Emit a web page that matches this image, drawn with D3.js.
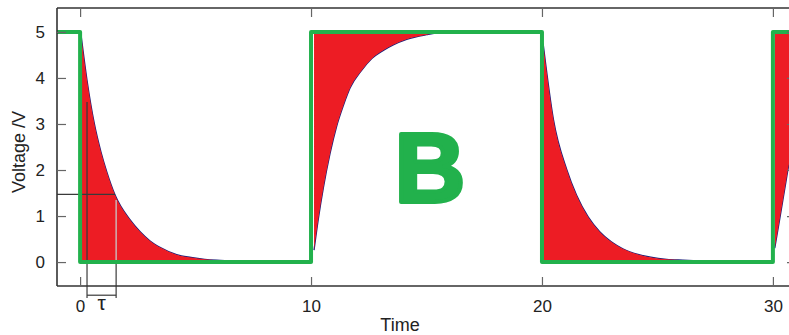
<!DOCTYPE html>
<html><head><meta charset="utf-8">
<script src="https://cdn.jsdelivr.net/npm/d3@7"></script>
<style>
html,body{margin:0;padding:0;background:#fff;}
svg{display:block;font-family:"Liberation Sans",Arial,sans-serif;}
</style></head>
<body><svg id="c" width="789" height="335"></svg>
<script>
// ---- data ----
const xTicks = [0, 10, 20, 30];
const yTicks = [0, 1, 2, 3, 4, 5];
const squareT = [-1, 0, 0, 10, 10, 20, 20, 30, 30, 31];
const squareV = [5, 5, 0, 0, 5, 5, 0, 0, 5, 5];

const decay1T = [0.05, 0.3, 0.62, 0.9, 1.15, 1.52, 2.16, 2.6, 3.03, 3.5, 4.18, 4.8, 5.4, 5.9, 6.9, 8.0];
const decay1V = [4.9, 3.95, 3.0, 2.4, 1.97, 1.45, 0.92, 0.66, 0.46, 0.31, 0.16, 0.1, 0.06, 0.04, 0.02, 0.01];
const decay1FillEnd = 5.9;

const rise2T = [10.13, 10.32, 10.53, 10.82, 11.11, 11.4, 11.69, 12.2, 12.63, 13.13, 13.56, 14.14, 15.0, 15.5, 16.5];
const rise2V = [0.26, 0.95, 1.6, 2.35, 2.95, 3.4, 3.78, 4.17, 4.42, 4.6, 4.72, 4.84, 4.94, 4.98, 5.0];
const rise2FillEnd = 15.5;

const decay3T = [20.05, 20.5, 21.08, 21.5, 22.0, 22.5, 23.0, 23.5, 24.2, 25.4, 26.1, 27.0];
const decay3V = [4.75, 3.09, 2.0, 1.45, 0.98, 0.66, 0.44, 0.29, 0.16, 0.06, 0.04, 0.02];
const decay3FillEnd = 26.1;

const rise4T = [30.08, 30.3, 30.5, 30.7, 31.0];
const rise4V = [0.3, 0.95, 1.55, 2.15, 2.9];

const tauT = [0.3, 1.56];      // tau bracket positions
const tauTopV = [3.48, 1.35];  // top of the two vertical marker lines
const levelV = 1.47;           // horizontal marker level
const bracketV = -0.72;
const bracketBottomV = -0.78;

// ---- layout ----
const svg = d3.select("#c");
const x = d3.scaleLinear().domain([-1, 31]).range([57, 796]);
const y = d3.scaleLinear().domain([-0.52, 5.52]).range([286, 8]);

const GREEN = "#22b14c", RED = "#ed1c24", NAVY = "#1b1f7a";

const pts = (T, V) => T.map((t, i) => ({t, v: V[i]}));
svg.append("defs").append("clipPath").attr("id", "pc")
  .append("rect").attr("x", 57).attr("y", 8).attr("width", 739).attr("height", 278);
const g = svg.append("g").attr("clip-path", "url(#pc)");

const curveLine = d3.line().x(d => x(d.t)).y(d => y(d.v)).curve(d3.curveMonotoneX);

function seg(T, V, fillEnd, base) {
  const all = pts(T, V);
  g.append("path").attr("d", curveLine(all)).attr("fill", "none")
    .attr("stroke", NAVY).attr("stroke-width", 1.3);
  const f = all.filter(d => d.t <= fillEnd + 1e-9);
  const area = d3.area().x(d => x(d.t)).y0(y(base)).y1(d => y(d.v)).curve(d3.curveMonotoneX);
  g.append("path").attr("d", area(f)).attr("fill", RED);
}
seg(decay1T, decay1V, decay1FillEnd, 0);
seg(rise2T, rise2V, rise2FillEnd, 5);
seg(decay3T, decay3V, decay3FillEnd, 0);
seg(rise4T, rise4V, 99, 5);

// tau marker lines inside plot
g.append("line").attr("x1", x(-1)).attr("x2", x(tauT[1]) - 1).attr("y1", y(levelV)).attr("y2", y(levelV))
  .attr("stroke", "#3a3a3a").attr("stroke-width", 1.2);
g.append("line").attr("x1", x(tauT[0])).attr("x2", x(tauT[0])).attr("y1", y(tauTopV[0])).attr("y2", y(0))
  .attr("stroke", "#3a3a3a").attr("stroke-width", 1.3);
g.append("line").attr("x1", x(tauT[1])).attr("x2", x(tauT[1])).attr("y1", y(tauTopV[1])).attr("y2", y(0))
  .attr("stroke", "#c9c9c9").attr("stroke-width", 1.3);

// square wave
const sq = pts(squareT, squareV);
g.append("path").attr("d", d3.line().x(d => x(d.t)).y(d => y(d.v))(sq))
  .attr("fill", "none").attr("stroke", GREEN).attr("stroke-width", 4)
  .attr("stroke-linejoin", "round").attr("stroke-linecap", "round");

// bracket below the axis
tauT.forEach(t => {
  svg.append("line").attr("x1", x(t)).attr("x2", x(t)).attr("y1", y(0) + 2).attr("y2", y(bracketBottomV))
    .attr("stroke", "#3a3a3a").attr("stroke-width", 1.2);
});
svg.append("line").attr("x1", x(tauT[0])).attr("x2", x(tauT[1])).attr("y1", y(bracketV)).attr("y2", y(bracketV))
  .attr("stroke", "#3a3a3a").attr("stroke-width", 1.2);
svg.append("text").attr("x", (x(tauT[0]) + x(tauT[1])) / 2).attr("y", 310)
  .attr("text-anchor", "middle").attr("font-size", 21).attr("fill", "#222").text("τ");

// frame
const AX = "#333";
svg.append("line").attr("x1", 57).attr("x2", 789).attr("y1", 286).attr("y2", 286).attr("stroke", AX).attr("stroke-width", 1.6);
svg.append("line").attr("x1", 57).attr("x2", 789).attr("y1", 8).attr("y2", 8).attr("stroke", AX).attr("stroke-width", 1.6);
svg.append("line").attr("x1", 57).attr("x2", 57).attr("y1", 8).attr("y2", 286).attr("stroke", AX).attr("stroke-width", 1.6);
svg.append("line").attr("x1", 796).attr("x2", 796).attr("y1", 8).attr("y2", 286).attr("stroke", AX).attr("stroke-width", 1.6);

// axes via d3 axis generators (inward ticks)
const TK = "#666";
const axB = svg.append("g").attr("transform", "translate(0,286)")
  .call(d3.axisBottom(x).tickValues(xTicks).tickSize(-9).tickPadding(14).tickFormat(d3.format("d")));
const axT = svg.append("g").attr("transform", "translate(0,8)")
  .call(d3.axisTop(x).tickValues(xTicks).tickSize(-9).tickFormat(""));
const axL = svg.append("g").attr("transform", "translate(57,0)")
  .call(d3.axisLeft(y).tickValues(yTicks).tickSize(-9).tickPadding(12).tickFormat(d3.format("d")));
const axR = svg.append("g").attr("transform", "translate(796,0)")
  .call(d3.axisRight(y).tickValues(yTicks).tickSize(-9).tickFormat(""));
[axB, axT, axL, axR].forEach(a => {
  a.select(".domain").remove();
  a.selectAll(".tick line").attr("stroke", TK).attr("stroke-width", 1.2);
  a.selectAll(".tick text").attr("font-size", 17).attr("fill", "#222")
    .attr("font-family", "Liberation Sans, Arial, sans-serif");
});

// titles
svg.append("text").attr("x", 400).attr("y", 331).attr("text-anchor", "middle")
  .attr("font-size", 18).attr("fill", "#222").text("Time");
svg.append("text").attr("transform", "translate(25,152) rotate(-90)").attr("text-anchor", "middle")
  .attr("font-size", 18).attr("fill", "#222").text("Voltage /V");

// big B
svg.append("text").attr("x", 430).attr("y", 202).attr("text-anchor", "middle")
  .attr("font-size", 98).attr("font-weight", "bold").attr("fill", GREEN)
  .attr("stroke", GREEN).attr("stroke-width", 4).attr("stroke-linejoin", "round").text("B");
</script></body></html>
